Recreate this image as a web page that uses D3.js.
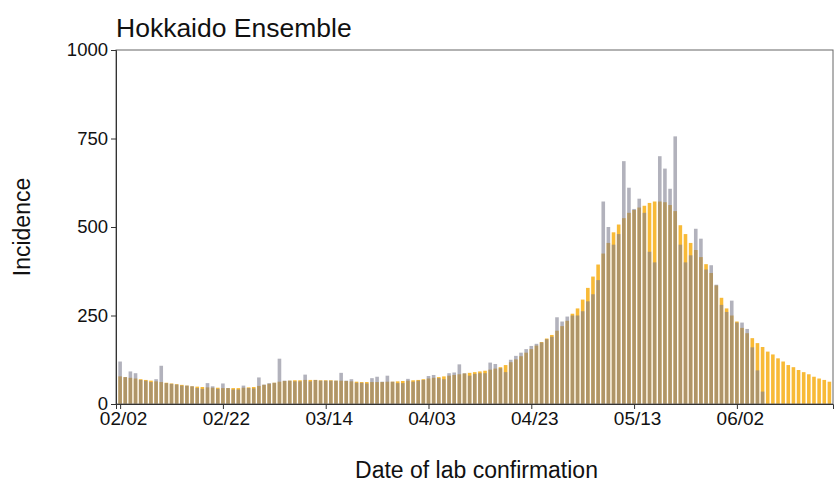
<!DOCTYPE html>
<html>
<head>
<meta charset="utf-8">
<script src="https://cdn.jsdelivr.net/npm/d3@7"></script>
<style>
  body { margin: 0; background: #fff; }
  svg { display: block; }
  text { font-family: "Liberation Sans", Arial, sans-serif; fill: #111; }
</style>
</head>
<body>
<svg id="chart" width="835" height="490"></svg>
<script>
// Day index 0 = 2021-02-02
const title = "Hokkaido Ensemble";
const xLabel = "Date of lab confirmation";
const yLabel = "Incidence";

const xTickDays = [0, 20, 40, 60, 80, 100, 120];
const xTickLabels = ["02/02", "02/22", "03/14", "04/03", "04/23", "05/13", "06/02"];
const yTicks = [0, 250, 500, 750, 1000];

// Ensemble prediction (orange), days 0..138
const ensemble = [
  78, 76, 74, 72, 70, 68, 66, 64, 62, 60,
  58, 56, 54, 52, 50, 49, 48, 47, 46, 46,
  45, 45, 45, 45, 46, 47, 48, 51, 54, 57,
  60, 63, 65, 66, 67, 67, 68, 68, 68, 67,
  67, 67, 66, 66, 65, 64, 63, 62, 62, 62,
  62, 62, 63, 63, 64, 65, 66, 67, 68, 70,
  72, 74, 76, 78, 80, 82, 84, 86, 88, 90,
  92, 94, 97, 100, 104, 110, 118, 126, 135, 145,
  155, 165, 175, 185, 195, 207, 220, 235, 255, 270,
  295, 328, 360, 394, 425, 455, 485, 507, 525, 540,
  548, 555, 560, 568, 572, 572, 570, 562, 545, 505,
  480, 455, 435, 415, 395, 370, 335, 300, 270, 250,
  233, 215, 200, 186, 172, 161, 148, 140, 129, 120,
  110, 104, 96, 90, 84, 77, 72, 68, 63
];

// Observed incidence (grey), days 0..125
const observed = [
  120, 76, 92, 87, 68, 66, 62, 70, 108, 59,
  57, 55, 52, 52, 50, 45, 43, 59, 50, 43,
  58, 45, 41, 41, 52, 45, 44, 75, 55, 59,
  60, 128, 66, 66, 64, 64, 83, 64, 68, 66,
  66, 66, 66, 88, 66, 70, 60, 60, 58, 73,
  77, 63, 80, 63, 59, 59, 71, 63, 66, 68,
  79, 82, 73, 70, 87, 89, 112, 87, 80, 85,
  87, 87, 117, 113, 101, 90, 125, 136, 145, 155,
  164, 170, 174, 183, 190, 245, 233, 247, 250, 250,
  262, 290, 310, 350, 572, 500, 450, 480, 686, 611,
  551, 580, 540, 430, 400, 700, 665, 608, 756, 450,
  400, 420, 495, 467, 380, 392, 337, 280, 260, 292,
  230, 230, 212, 160, 95, 35
];

const svg = d3.select("#chart");
const L = 116, R = 833, T = 50, B = 404;

const x = d3.scaleLinear().domain([-0.8, 138.7]).range([L, R]);
const y = d3.scaleLinear().domain([0, 1000]).range([B, T]);
const bw = 3.6;

// bars
svg.append("g").selectAll("rect").data(ensemble).join("rect")
  .attr("x", (d, i) => x(i) - bw / 2)
  .attr("width", bw)
  .attr("y", d => y(d))
  .attr("height", d => y(0) - y(d))
  .attr("fill", "#F8B62C")
  .attr("fill-opacity", 0.95);

svg.append("g").selectAll("rect").data(observed).join("rect")
  .attr("x", (d, i) => x(i) - bw / 2)
  .attr("width", bw)
  .attr("y", d => y(d))
  .attr("height", d => y(0) - y(d))
  .attr("fill", "#7a7a8c")
  .attr("fill-opacity", 0.58);

// frame
svg.append("rect")
  .attr("x", L).attr("y", T)
  .attr("width", R - L).attr("height", B - T)
  .attr("fill", "none").attr("stroke", "#666").attr("stroke-width", 1);

// axes
const xAxis = d3.axisBottom(x)
  .tickValues(xTickDays)
  .tickFormat((d, i) => xTickLabels[i])
  .tickSizeOuter(0).tickSize(5).tickPadding(3);
const gx = svg.append("g").attr("transform", `translate(0,${B})`).call(xAxis);
gx.select(".domain").attr("stroke", "#333");
gx.selectAll(".tick line").attr("stroke", "#333");
gx.selectAll(".tick text").attr("font-size", 19).attr("fill", "#111")
  .attr("dx", 3)
  .attr("font-family", "Liberation Sans, Arial, sans-serif");

const yAxis = d3.axisLeft(y)
  .tickValues(yTicks)
  .tickFormat(d3.format("d"))
  .tickSizeOuter(0).tickSize(5).tickPadding(3);
const gy = svg.append("g").attr("transform", `translate(${L},0)`).call(yAxis);
gy.select(".domain").attr("stroke", "#333");
gy.selectAll(".tick line").attr("stroke", "#333");
gy.selectAll(".tick text").attr("font-size", 18.5).attr("fill", "#111")
  .attr("font-family", "Liberation Sans, Arial, sans-serif");

// titles
svg.append("text").attr("x", L).attr("y", 37)
  .attr("font-size", 26.5).text(title);

svg.append("text").attr("x", (L + R) / 2 + 2).attr("y", 478)
  .attr("text-anchor", "middle").attr("font-size", 23).text(xLabel);

svg.append("text")
  .attr("transform", `translate(30,${(T + B) / 2}) rotate(-90)`)
  .attr("text-anchor", "middle").attr("font-size", 23).text(yLabel);
</script>
</body>
</html>
